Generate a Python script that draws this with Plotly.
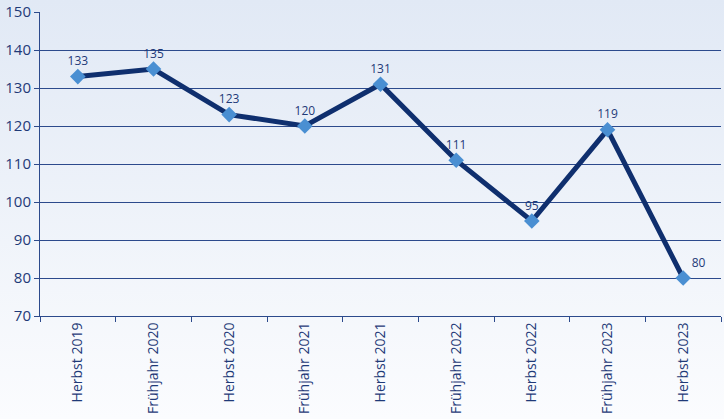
import plotly.graph_objects as go

categories = ["Herbst 2019", "Frühjahr 2020", "Herbst 2020", "Frühjahr 2021", "Herbst 2021",
              "Frühjahr 2022", "Herbst 2022", "Frühjahr 2023", "Herbst 2023"]
values = [133, 135, 123, 120, 131, 111, 95, 119, 80]

W, H = 724, 419
ml, mr, mt, mb = 40, 3, 12, 103
pw, ph = W - ml - mr, H - mt - mb

navy = "#0f2f6e"
txt = "#1f3a78"

svg = ("data:image/svg+xml;utf8,<svg xmlns='http://www.w3.org/2000/svg' width='724' height='419' "
       "preserveAspectRatio='none'><defs><linearGradient id='g' x1='0' y1='0' x2='0' y2='1'>"
       "<stop offset='0' stop-color='%23e1e9f5'/><stop offset='1' stop-color='%23fbfcfe'/>"
       "</linearGradient></defs><rect width='724' height='419' fill='url(%23g)'/></svg>")

positions = ["top center"] * (len(values) - 1) + ["top right"]

fig = go.Figure()
fig.add_trace(go.Scatter(
    x=categories, y=values, mode="lines+markers+text",
    line=dict(color=navy, width=5),
    marker=dict(symbol="diamond", size=12, color="#4a8fd2"),
    text=[str(v) for v in values], textposition=positions,
    textfont=dict(size=12, color=txt, family="Open Sans"),
    cliponaxis=False, hoverinfo="skip"
))

fig.update_layout(
    width=W, height=H,
    margin=dict(l=ml, r=mr, t=mt, b=mb, autoexpand=False),
    paper_bgcolor="rgba(0,0,0,0)", plot_bgcolor="rgba(0,0,0,0)",
    showlegend=False,
    font=dict(family="Open Sans", color=txt),
    images=[dict(source=svg, xref="paper", yref="paper",
                 x=-ml / pw, y=1 + mt / ph, sizex=W / pw, sizey=H / ph,
                 xanchor="left", yanchor="top", sizing="stretch", layer="below")],
    xaxis=dict(type="category", tickson="boundaries", ticks="outside", ticklen=5,
               tickcolor="#2c4a8c", showline=True, linecolor="#2c4a8c", linewidth=1,
               showgrid=False, tickangle=-90, tickfont=dict(size=14, color=txt),
               range=[-0.5, 8.5], automargin=False),
    yaxis=dict(range=[70, 150], dtick=10, ticks="outside", ticklen=5, tickcolor="#2c4a8c",
               showline=True, linecolor="#2c4a8c", linewidth=1,
               showgrid=True, gridcolor="#2c4a8c", gridwidth=1,
               tickfont=dict(size=15, color=txt), zeroline=False, automargin=False),
)

fig.write_html("out.html", config={"displayModeBar": False},
               post_script="document.body.style.margin='0px';")
